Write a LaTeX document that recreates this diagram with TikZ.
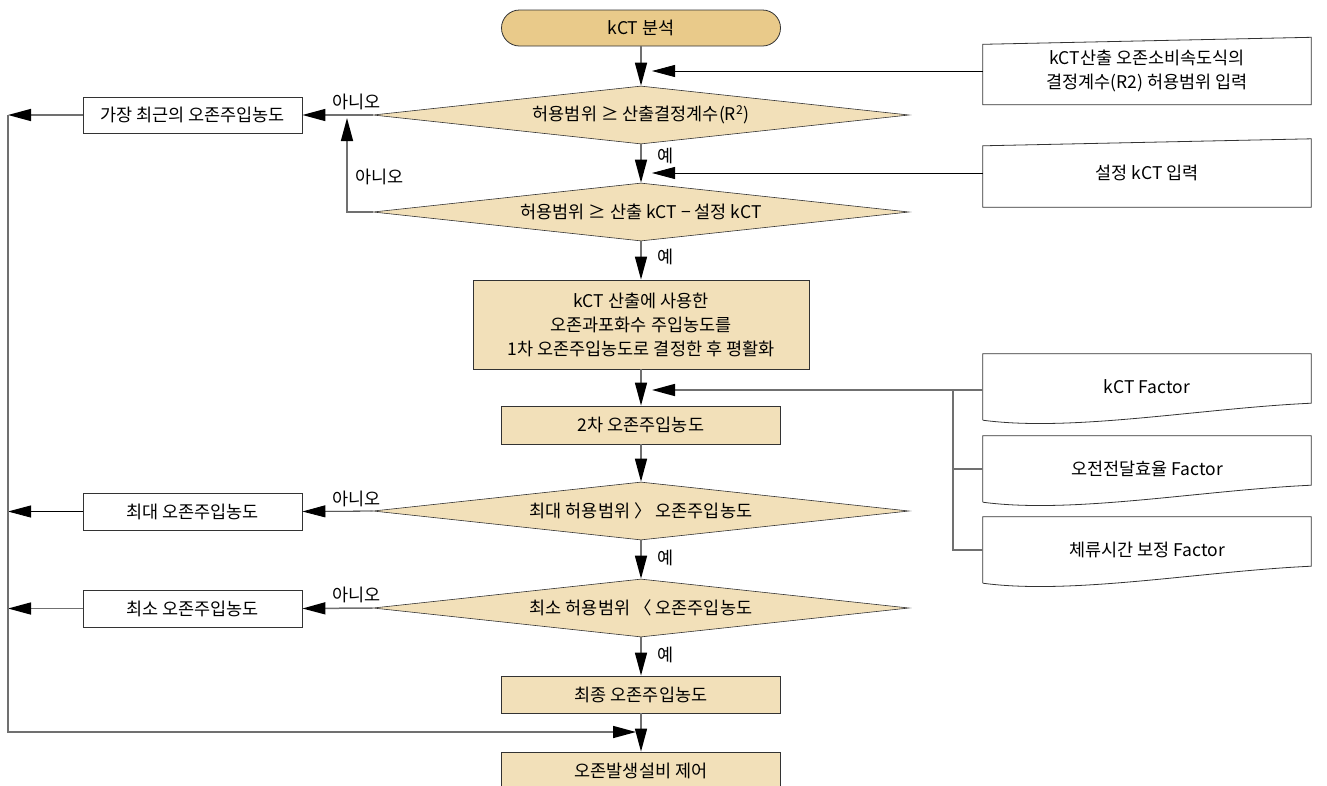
\documentclass[tikz,border=0pt]{standalone}
\usepackage{fontspec}
\setmainfont{Noto Sans CJK KR}
\usepackage{tikz}
\usetikzlibrary{calc}
\usetikzlibrary{shapes.geometric}
\usetikzlibrary{arrows.meta}

\definecolor{startfill}{HTML}{E9CA8A}
\definecolor{boxfill}{HTML}{F2E0B9}
\definecolor{linegray}{HTML}{707070}

\tikzset{
	every node/.style={font=\fontsize{17.5}{24}\selectfont},
	terminal/.style={draw=black!80,fill=startfill,rounded corners=18pt,minimum width=279pt,minimum height=36pt,line width=0.8pt},
	procbox/.style={draw=black!80,fill=boxfill,minimum width=279pt,minimum height=37pt,line width=0.8pt,align=center},
	decision/.style={diamond,draw=black!80,fill=boxfill,aspect=9.4,inner sep=0pt,minimum width=536pt,minimum height=58pt,line width=0.6pt},
	outbox/.style={draw=black!80,fill=white,minimum width=219pt,minimum height=36pt,line width=0.8pt},
	inbox/.style={minimum width=328pt,minimum height=67pt,align=center},
	conn/.style={draw=linegray,line width=1.5pt},
	arr/.style={conn,-{Triangle[length=23pt,width=12pt,color=black]}},
	lbl/.style={font=\fontsize{17.5}{22}\selectfont}
}

\begin{document}
\begin{tikzpicture}[x=1pt,y=-1pt]
		\useasboundingbox (0,0) rectangle (1327,785);
		% main column
		\node[terminal](start) at (641,28) {kCT 분석};
		\node[decision](d1) at (641,115) {허용범위 ≥ 산출결정계수(R\textsuperscript{2})};
		\node[decision](d2) at (641,212) {허용범위 ≥ 산출 kCT − 설정 kCT};
		\node[procbox,minimum width=336pt,minimum height=89pt](p1) at (641,324.5) {kCT 산출에 사용한\\오존과포화수 주입농도를\\1차 오존주입농도로 결정한 후 평활화};
		\node[procbox,minimum height=38pt](p2) at (641,425) {2차 오존주입농도};
		\node[decision](d3) at (641,511) {최대 허용범위 〉 오존주입농도};
		\node[decision](d4) at (641,608) {최소 허용범위 〈 오존주입농도};
		\node[procbox](p3) at (641,694.5) {최종 오존주입농도};
		\node[procbox,minimum height=38pt](p4) at (641,771) {오존발생설비 제어};
		
		% left column
		\node[outbox](l1) at (192.5,115) {가장 최근의 오존주입농도};
		\node[outbox,minimum height=37pt](l2) at (192.5,511.5) {최대 오존주입농도};
		\node[outbox,minimum height=37pt](l3) at (192.5,608.5) {최소 오존주입농도};
		
		% right column
		\node[inbox](r1) at (1147,71) {kCT산출 오존소비속도식의\\결정계수(R2) 허용범위 입력};
		\node[inbox,minimum height=68pt](r2) at (1147,173) {설정 kCT 입력};
		\node[inbox,minimum height=66pt](f1) at (1147,387) {kCT Factor};
		\node[inbox,minimum height=66pt](f2) at (1147,469) {오전전달효율 Factor};
		\node[inbox,minimum height=66pt](f3) at (1147,550) {체류시간 보정 Factor};
		
		\draw[black!80,line width=0.8pt] ($(r1.north west)+(0,7)$)--(r1.north east)--(r1.south east)--(r1.south west)--cycle;
		\draw[black!80,line width=0.8pt] ($(r2.north west)+(0,7)$)--(r2.north east)--(r2.south east)--(r2.south west)--cycle;
		\foreach \f in {f1,f2,f3}{
			\draw[black!80,line width=0.8pt] (\f.south west)--(\f.north west)--(\f.north east)--($(\f.south east)+(0,-17)$)
				.. controls ($(\f.south east)+(-110,-12)$) and ($(\f.south west)+(90,12)$) .. (\f.south west);
		}
		
		\coordinate(j1) at (652,71);
		\coordinate(j2) at (652,173);
		\coordinate(j3) at (652,390);
		\coordinate(bus) at (953,390);
		\coordinate(up) at (347,118);
		\coordinate(bend) at (347,212);
		\coordinate(t1) at (8,115);
		\coordinate(t2) at (8,511.5);
		\coordinate(t3) at (8,608.5);
		\coordinate(corner) at (8,732);
		\coordinate(join) at (636,732);
		
		\draw[arr] (start)--(d1);
		\draw[arr,draw=black,line width=0.8pt] (r1.west)--(j1);
		\draw[arr] (d1)--(d2) node[pos=0.3,right,xshift=12pt,lbl]{예};
		\draw[arr,draw=black,line width=0.8pt] (r2.west)--(j2);
		\draw[arr] (d1.west)--(l1.east) node[pos=0.23,above,yshift=1pt,lbl]{아니오};
		\draw[arr] (d2.west)--(bend)--(up) node[pos=0.37,right,xshift=4pt,lbl]{아니오};
		\draw[arr] (d2)--(p1) node[pos=0.42,right,xshift=12pt,lbl]{예};
		\draw[arr] (p1)--(p2);
		\draw[arr] (f1.west |- bus)--(j3);
		\draw[conn] (bus)--(bus |- f3.west)--(f3.west);
		\draw[conn] (bus |- f2.west)--(f2.west);
		\draw[arr] (p2)--(d3);
		\draw[arr,draw=black,line width=0.8pt] (d3.west)--(l2.east) node[pos=0.23,above,yshift=1pt,lbl]{아니오};
		\draw[arr] (d3)--(d4) node[pos=0.45,right,xshift=12pt,lbl]{예};
		\draw[arr] (d4.west)--(l3.east) node[pos=0.23,above,yshift=1pt,lbl]{아니오};
		\draw[arr] (d4)--(p3) node[pos=0.45,right,xshift=12pt,lbl]{예};
		\draw[arr] (p3)--(p4);
		
		\draw[arr] (l1.west)--(t1);
		\draw[arr,draw=black,line width=0.8pt] (l2.west)--(t2);
		\draw[arr] (l3.west)--(t3);
		\draw[arr] (t1)--(corner)--(join);
	\end{tikzpicture}
\end{document}
